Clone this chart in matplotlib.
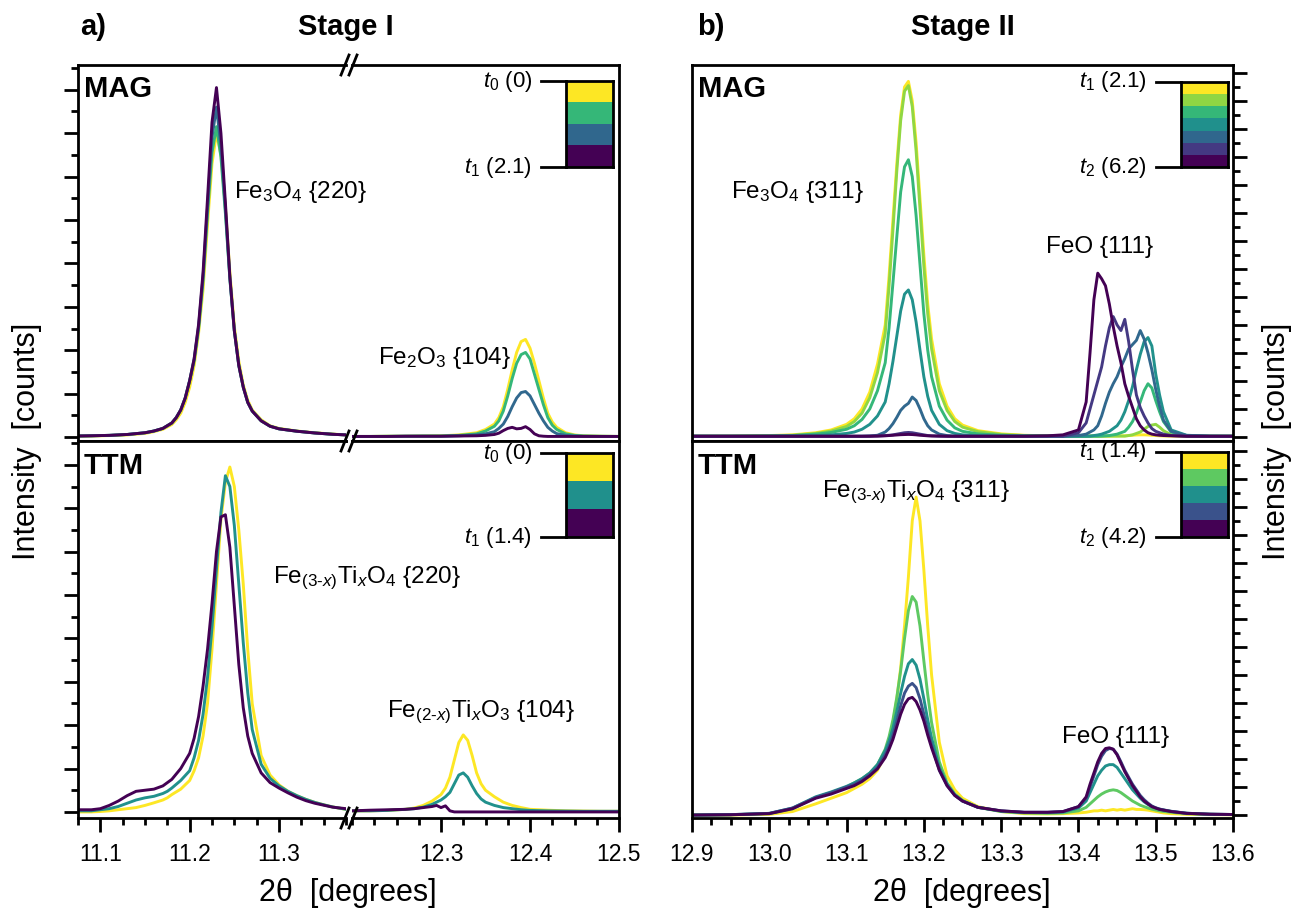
import numpy as np
import matplotlib
matplotlib.use('Agg')
import matplotlib.pyplot as plt
from matplotlib.ticker import MultipleLocator, FixedLocator, FormatStrFormatter
from matplotlib.lines import Line2D
from matplotlib.colors import to_rgb

plt.rcParams['font.family'] = ['Liberation Sans', 'DejaVu Sans']
plt.rcParams['mathtext.fontset'] = 'custom'
plt.rcParams['mathtext.rm'] = 'Liberation Sans'
plt.rcParams['mathtext.it'] = 'Liberation Sans:italic'
plt.rcParams['mathtext.bf'] = 'Liberation Sans:bold'

W, H = 1293, 913

# ---- Stage I, MAG (intensity in tick units) ----
x_a_mag_l = [11.075, 11.09, 11.11, 11.13, 11.15, 11.16, 11.17, 11.18, 11.185, 11.19, 11.195, 11.20,
             11.205, 11.21, 11.215, 11.22, 11.225, 11.23, 11.235, 11.24, 11.245, 11.25,
             11.255, 11.26, 11.265, 11.27, 11.28, 11.29, 11.30, 11.32, 11.34, 11.36, 11.375]
a_mag_l_t0 = [0.04, 0.05, 0.07, 0.1, 0.17, 0.25, 0.36, 0.58, 0.8, 1.1, 1.6, 2.3,
              3.3, 4.8, 6.8, 9.8, 12.6, 14.0, 13.0, 10.6, 7.6, 5.1,
              3.5, 2.4, 1.7, 1.25, 0.8, 0.52, 0.4, 0.28, 0.2, 0.14, 0.1]
a_mag_l_t1 = [0.05, 0.06, 0.08, 0.12, 0.2, 0.28, 0.4, 0.65, 0.9, 1.25, 1.8, 2.6,
              3.5, 5.0, 7.2, 10.3, 13.1, 14.3, 12.9, 10.3, 7.3, 4.9,
              3.3, 2.3, 1.6, 1.2, 0.75, 0.5, 0.38, 0.27, 0.19, 0.13, 0.1]
a_mag_l_t2 = [0.05, 0.06, 0.08, 0.12, 0.2, 0.28, 0.4, 0.65, 0.9, 1.25, 1.8, 2.6,
              3.6, 5.1, 7.4, 10.6, 13.8, 15.2, 13.4, 10.5, 7.3, 4.9,
              3.3, 2.3, 1.6, 1.2, 0.75, 0.5, 0.38, 0.27, 0.19, 0.13, 0.1]
a_mag_l_t3 = [0.05, 0.06, 0.08, 0.12, 0.2, 0.28, 0.4, 0.65, 0.9, 1.25, 1.8, 2.6,
              3.6, 5.2, 7.6, 11.0, 14.5, 16.1, 14.0, 10.8, 7.4, 4.9,
              3.3, 2.3, 1.6, 1.2, 0.75, 0.5, 0.38, 0.27, 0.19, 0.13, 0.1]

x_a_mag_r = [12.20, 12.22, 12.24, 12.26, 12.28, 12.30, 12.32, 12.34, 12.35, 12.36,
             12.365, 12.37, 12.375, 12.38, 12.385, 12.39, 12.395, 12.40, 12.405, 12.41,
             12.415, 12.42, 12.425, 12.43, 12.44, 12.45, 12.46, 12.48, 12.50]
a_mag_r_t0 = [0.03, 0.03, 0.04, 0.04, 0.05, 0.06, 0.1, 0.2, 0.35, 0.6,
              0.9, 1.4, 2.2, 3.1, 3.9, 4.4, 4.5, 4.1, 3.4, 2.6,
              1.8, 1.1, 0.7, 0.45, 0.2, 0.1, 0.06, 0.04, 0.03]
a_mag_r_t1 = [0.03, 0.03, 0.04, 0.04, 0.05, 0.05, 0.08, 0.15, 0.28, 0.5,
              0.75, 1.2, 1.9, 2.7, 3.4, 3.8, 3.9, 3.6, 2.9, 2.2,
              1.5, 0.9, 0.55, 0.35, 0.15, 0.08, 0.05, 0.04, 0.03]
a_mag_r_t2 = [0.03, 0.03, 0.03, 0.04, 0.04, 0.04, 0.06, 0.1, 0.15, 0.25,
              0.4, 0.6, 0.95, 1.4, 1.8, 2.05, 2.1, 1.9, 1.5, 1.1,
              0.75, 0.45, 0.28, 0.16, 0.08, 0.05, 0.04, 0.03, 0.03]
a_mag_r_t3 = [0.03, 0.03, 0.03, 0.04, 0.04, 0.04, 0.05, 0.06, 0.08, 0.12,
              0.18, 0.3, 0.4, 0.45, 0.38, 0.4, 0.48, 0.35, 0.15, 0.06,
              0.04, 0.03, 0.03, 0.03, 0.03, 0.03, 0.03, 0.03, 0.03]

# ---- Stage I, TTM ----
x_a_ttm_l = [11.075, 11.09, 11.10, 11.11, 11.12, 11.13, 11.14, 11.15, 11.16, 11.17, 11.175, 11.18, 11.19, 11.20,
             11.205, 11.21, 11.215, 11.22, 11.225, 11.23, 11.235, 11.24, 11.245, 11.25, 11.255, 11.26, 11.265, 11.27,
             11.28, 11.29, 11.30, 11.31, 11.32, 11.33, 11.34, 11.35, 11.36, 11.375]
a_ttm_l_t0 = [0.0, 0.0, 0.02, 0.05, 0.1, 0.15, 0.2, 0.3, 0.42, 0.55, 0.65, 0.8, 1.05, 1.45,
              1.9, 2.5, 3.5, 5.0, 7.5, 10.5, 13.5, 15.2, 15.9, 15.0, 13.0, 10.5, 7.5, 5.0,
              2.6, 1.7, 1.25, 0.95, 0.75, 0.58, 0.44, 0.33, 0.23, 0.12]
a_ttm_l_t1 = [0.05, 0.05, 0.1, 0.15, 0.25, 0.4, 0.55, 0.65, 0.72, 0.85, 0.95, 1.1, 1.45, 1.9,
              2.5, 3.3, 4.5, 6.2, 8.5, 11.2, 13.8, 15.5, 15.0, 13.2, 10.5, 7.8, 5.5, 3.8,
              2.2, 1.55, 1.2, 0.95, 0.75, 0.58, 0.44, 0.33, 0.23, 0.12]
a_ttm_l_t2 = [0.1, 0.1, 0.15, 0.3, 0.5, 0.75, 0.95, 1.0, 1.05, 1.2, 1.35, 1.5, 2.0, 2.7,
              3.4, 4.4, 5.8, 7.5, 9.6, 12.0, 13.6, 13.7, 12.2, 9.5, 6.8, 4.8, 3.5, 2.7,
              1.8, 1.35, 1.1, 0.88, 0.68, 0.52, 0.4, 0.31, 0.22, 0.15]

x_a_ttm_r = [12.20, 12.22, 12.24, 12.26, 12.27, 12.28, 12.29, 12.295, 12.30, 12.305,
             12.31, 12.315, 12.32, 12.325, 12.33, 12.335, 12.34, 12.345, 12.35, 12.36,
             12.37, 12.38, 12.39, 12.40, 12.42, 12.44, 12.46, 12.48, 12.50]
a_ttm_r_t0 = [0.05, 0.05, 0.07, 0.12, 0.18, 0.3, 0.5, 0.65, 0.8, 1.1,
              1.6, 2.4, 3.2, 3.55, 3.3, 2.6, 1.8, 1.3, 1.0, 0.7,
              0.45, 0.3, 0.2, 0.12, 0.08, 0.05, 0.04, 0.03, 0.03]
a_ttm_r_t1 = [0.05, 0.05, 0.07, 0.12, 0.15, 0.22, 0.35, 0.45, 0.55, 0.7,
              0.9, 1.3, 1.7, 1.8, 1.6, 1.2, 0.85, 0.6, 0.45, 0.3,
              0.2, 0.15, 0.1, 0.07, 0.05, 0.04, 0.03, 0.03, 0.03]
a_ttm_r_t2 = [0.05, 0.08, 0.1, 0.12, 0.15, 0.2, 0.25, 0.3, 0.2, 0.28,
              0.05, 0.0, 0.0, 0.0, 0.0, 0.0, 0.0, 0.0, 0.0, 0.0,
              0.0, 0.0, 0.0, 0.0, 0.0, 0.0, 0.0, 0.0, 0.0]

# ---- Stage II (shared 2theta grid) ----
x_b = [12.90, 12.95, 13.00, 13.03, 13.06, 13.08, 13.10, 13.11, 13.12, 13.13, 13.14,
       13.15, 13.155, 13.16, 13.165, 13.17, 13.175, 13.18, 13.185, 13.19, 13.195, 13.20, 13.205, 13.21,
       13.22, 13.23, 13.24, 13.25, 13.27, 13.30, 13.33, 13.36, 13.38,
       13.40, 13.41, 13.415, 13.42, 13.425, 13.43, 13.435, 13.44, 13.445, 13.45, 13.455, 13.46, 13.465,
       13.47, 13.475, 13.48, 13.485, 13.49, 13.495, 13.50, 13.505, 13.51, 13.52, 13.54, 13.57, 13.60]

b_mag = [
    [0.05, 0.06, 0.1, 0.15, 0.3, 0.5, 0.9, 1.3, 2.0, 3.2, 5.2,
     8.0, 11.5, 15.5, 19.5, 23.0, 25.0, 25.4, 24.0, 21.0, 17.0, 13.0, 9.5, 7.0,
     3.8, 2.2, 1.3, 0.85, 0.45, 0.22, 0.12, 0.08, 0.07,
     0.06, 0.06, 0.06, 0.06, 0.06, 0.06, 0.06, 0.06, 0.07, 0.07, 0.08, 0.08, 0.1,
     0.12, 0.14, 0.15, 0.15, 0.14, 0.12, 0.1, 0.08, 0.07, 0.06, 0.05, 0.05, 0.05],
    [0.05, 0.05, 0.08, 0.12, 0.25, 0.42, 0.75, 1.1, 1.7, 2.8, 4.6,
     7.4, 10.8, 14.8, 19.0, 22.6, 24.7, 25.1, 23.6, 20.4, 16.3, 12.2, 8.8, 6.3,
     3.3, 1.9, 1.1, 0.7, 0.38, 0.18, 0.1, 0.07, 0.06,
     0.06, 0.06, 0.06, 0.06, 0.06, 0.06, 0.06, 0.06, 0.06, 0.06, 0.06, 0.06, 0.1,
     0.15, 0.25, 0.35, 0.55, 0.75, 0.85, 0.9, 0.7, 0.45, 0.15, 0.06, 0.05, 0.05],
    [0.05, 0.05, 0.07, 0.1, 0.2, 0.32, 0.55, 0.8, 1.25, 2.0, 3.3,
     5.3, 7.8, 11.0, 14.3, 17.5, 19.3, 19.8, 18.6, 15.8, 12.3, 8.8, 6.2, 4.3,
     2.2, 1.2, 0.65, 0.4, 0.22, 0.12, 0.08, 0.06, 0.05,
     0.05, 0.05, 0.05, 0.05, 0.05, 0.06, 0.08, 0.1, 0.15, 0.2, 0.3, 0.4, 0.7,
     1.1, 1.7, 2.5, 3.3, 3.8, 3.5, 2.6, 1.8, 1.1, 0.35, 0.08, 0.05, 0.05],
    [0.05, 0.05, 0.05, 0.06, 0.1, 0.15, 0.25, 0.35, 0.55, 0.9, 1.5,
     2.5, 3.8, 5.4, 7.2, 9.0, 10.2, 10.5, 9.8, 8.2, 6.2, 4.3, 2.9, 1.9,
     0.9, 0.45, 0.25, 0.15, 0.09, 0.06, 0.05, 0.05, 0.05,
     0.05, 0.05, 0.06, 0.1, 0.14, 0.2, 0.3, 0.4, 0.6, 0.8, 1.2, 1.8, 2.6,
     3.6, 4.8, 5.9, 6.8, 7.1, 6.5, 4.5, 3.0, 1.8, 0.5, 0.12, 0.06, 0.05],
    [0.05, 0.05, 0.05, 0.05, 0.05, 0.05, 0.05, 0.05, 0.05, 0.07, 0.12,
     0.35, 0.6, 0.95, 1.4, 1.9, 2.2, 2.4, 2.85, 2.6, 2.0, 1.3, 0.8, 0.5,
     0.2, 0.1, 0.06, 0.05, 0.05, 0.05, 0.05, 0.05, 0.05,
     0.1, 0.2, 0.35, 0.5, 0.8, 1.5, 2.4, 3.2, 3.8, 4.3, 5.0, 5.6, 6.3,
     6.6, 6.9, 7.6, 7.0, 6.0, 4.8, 3.4, 2.2, 1.2, 0.4, 0.1, 0.05, 0.05],
    [0.05, 0.05, 0.05, 0.05, 0.05, 0.05, 0.05, 0.05, 0.05, 0.06, 0.07,
     0.1, 0.12, 0.15, 0.2, 0.25, 0.3, 0.32, 0.3, 0.25, 0.2, 0.15, 0.1, 0.08,
     0.06, 0.05, 0.05, 0.05, 0.05, 0.05, 0.05, 0.05, 0.05,
     0.3, 1.0, 2.0, 3.0, 4.0, 5.0, 6.5, 7.8, 8.6, 8.0, 7.6, 8.4, 6.8,
     4.8, 3.0, 2.1, 1.5, 1.0, 0.6, 0.4, 0.3, 0.2, 0.1, 0.05, 0.05, 0.05],
    [0.05, 0.05, 0.05, 0.05, 0.05, 0.05, 0.05, 0.05, 0.05, 0.05, 0.06,
     0.08, 0.1, 0.12, 0.14, 0.16, 0.17, 0.18, 0.17, 0.15, 0.12, 0.1, 0.08, 0.07,
     0.06, 0.05, 0.05, 0.05, 0.05, 0.05, 0.05, 0.08, 0.15,
     0.5, 2.5, 6.0, 9.8, 11.7, 11.3, 10.8, 9.5, 7.9, 6.5, 5.3, 3.8, 2.9,
     2.1, 1.3, 0.8, 0.5, 0.3, 0.2, 0.15, 0.12, 0.1, 0.08, 0.05, 0.05, 0.05],
]

b_ttm = [
    [0.0, 0.0, 0.05, 0.25, 0.8, 1.2, 1.6, 1.9, 2.2, 2.6, 3.2,
     4.3, 5.2, 6.5, 8.3, 10.5, 13.5, 17.0, 21.0, 22.7, 21.0, 17.5, 13.5, 10.0,
     5.2, 2.8, 1.8, 1.2, 0.6, 0.25, 0.1, 0.08, 0.1,
     0.15, 0.2, 0.25, 0.3, 0.3, 0.35, 0.3, 0.35, 0.4, 0.35, 0.4, 0.35, 0.4,
     0.45, 0.4, 0.4, 0.38, 0.35, 0.3, 0.25, 0.2, 0.15, 0.1, 0.05, 0.03, 0.02],
    [0.0, 0.02, 0.1, 0.45, 1.25, 1.6, 2.0, 2.3, 2.6, 3.0, 3.6,
     4.7, 5.6, 6.8, 8.4, 10.3, 12.6, 14.6, 15.6, 15.2, 13.5, 11.0, 8.6, 6.6,
     3.8, 2.3, 1.5, 1.05, 0.55, 0.25, 0.15, 0.12, 0.15,
     0.3, 0.55, 0.8, 1.05, 1.3, 1.5, 1.65, 1.75, 1.8, 1.75, 1.6, 1.4, 1.2,
     1.0, 0.85, 0.7, 0.6, 0.5, 0.42, 0.36, 0.3, 0.26, 0.2, 0.1, 0.05, 0.03],
    [0.0, 0.03, 0.12, 0.5, 1.3, 1.65, 2.05, 2.3, 2.6, 3.0, 3.6,
     4.6, 5.3, 6.2, 7.4, 8.7, 9.9, 10.8, 11.1, 10.7, 9.7, 8.3, 6.8, 5.5,
     3.4, 2.2, 1.45, 1.0, 0.55, 0.28, 0.18, 0.18, 0.22,
     0.5, 1.0, 1.6, 2.2, 2.8, 3.2, 3.5, 3.6, 3.6, 3.4, 3.0, 2.6, 2.2,
     1.8, 1.5, 1.2, 0.95, 0.75, 0.6, 0.5, 0.42, 0.36, 0.26, 0.13, 0.06, 0.04],
    [0.0, 0.03, 0.12, 0.5, 1.25, 1.6, 2.0, 2.2, 2.5, 2.9, 3.4,
     4.3, 4.9, 5.7, 6.7, 7.8, 8.7, 9.2, 9.4, 9.1, 8.3, 7.2, 6.0, 5.0,
     3.2, 2.1, 1.4, 1.0, 0.55, 0.3, 0.2, 0.2, 0.25,
     0.6, 1.2, 2.0, 2.8, 3.6, 4.2, 4.6, 4.75, 4.7, 4.35, 3.8, 3.2, 2.7,
     2.2, 1.8, 1.4, 1.1, 0.85, 0.65, 0.52, 0.43, 0.37, 0.27, 0.13, 0.06, 0.04],
    [0.0, 0.02, 0.1, 0.45, 1.2, 1.5, 1.9, 2.1, 2.4, 2.8, 3.3,
     4.1, 4.7, 5.4, 6.3, 7.2, 7.9, 8.3, 8.4, 8.1, 7.5, 6.7, 5.7, 4.8,
     3.2, 2.1, 1.4, 1.0, 0.55, 0.3, 0.2, 0.2, 0.25,
     0.6, 1.3, 2.2, 3.0, 3.8, 4.4, 4.75, 4.8, 4.7, 4.3, 3.7, 3.1, 2.6,
     2.1, 1.7, 1.3, 1.0, 0.8, 0.6, 0.5, 0.4, 0.35, 0.25, 0.12, 0.06, 0.04],
]

a_mag_colors = plt.cm.viridis(np.linspace(1, 0, 4))
a_ttm_colors = plt.cm.viridis(np.linspace(1, 0, 3))
b_mag_colors = plt.cm.viridis(np.linspace(1, 0, 7))
b_ttm_colors = plt.cm.viridis(np.linspace(1, 0, 5))

fig = plt.figure(figsize=(W / 100, H / 100), dpi=100)


def box(x0, y0, x1, y1):
    # pixel box (top-left origin) -> figure fraction rect
    return [x0 / W, 1 - y1 / H, (x1 - x0) / W, (y1 - y0) / H]


def fpt(x, y):
    return x / W, 1 - y / H


def setup(ax, xlim, ylim, xmajor, show_x, yside, hide):
    ax.set_xlim(xlim)
    ax.set_ylim(ylim)
    for s in ax.spines.values():
        s.set_linewidth(2)
    for s in hide:
        ax.spines[s].set_visible(False)
    ax.xaxis.set_major_locator(FixedLocator(xmajor))
    ax.xaxis.set_minor_locator(MultipleLocator(0.025))
    ax.xaxis.set_major_formatter(FormatStrFormatter('%.1f'))
    ax.yaxis.set_major_locator(MultipleLocator(2))
    ax.yaxis.set_minor_locator(MultipleLocator(1))
    ax.tick_params(which='both', direction='out', width=2, labelsize=16.5,
                   top=False, bottom=show_x, labelbottom=show_x,
                   left=(yside == 'left'), right=(yside == 'right'),
                   labelleft=False, labelright=False)
    ax.tick_params(which='major', length=10, pad=8)
    ax.tick_params(which='minor', length=5)


ax_atl = fig.add_axes(box(78, 65, 346, 441))
ax_atr = fig.add_axes(box(352, 65, 619, 441))
ax_abl = fig.add_axes(box(78, 441, 346, 818))
ax_abr = fig.add_axes(box(352, 441, 619, 818))
ax_bt = fig.add_axes(box(692, 65, 1233, 441))
ax_bb = fig.add_axes(box(692, 441, 1233, 818))

lw = 2.1
for ys, c in zip([a_mag_l_t0, a_mag_l_t1, a_mag_l_t2, a_mag_l_t3], a_mag_colors):
    ax_atl.plot(x_a_mag_l, ys, color=c, lw=lw)
for ys, c in zip([a_mag_r_t0, a_mag_r_t1, a_mag_r_t2, a_mag_r_t3], a_mag_colors):
    ax_atr.plot(x_a_mag_r, ys, color=c, lw=lw)
for ys, c in zip([a_ttm_l_t0, a_ttm_l_t1, a_ttm_l_t2], a_ttm_colors):
    ax_abl.plot(x_a_ttm_l, ys, color=c, lw=lw)
for ys, c in zip([a_ttm_r_t0, a_ttm_r_t1, a_ttm_r_t2], a_ttm_colors):
    ax_abr.plot(x_a_ttm_r, ys, color=c, lw=lw)
for ys, c in zip(b_mag, b_mag_colors):
    ax_bt.plot(x_b, ys, color=c, lw=lw)
for ys, c in zip(b_ttm, b_ttm_colors):
    ax_bb.plot(x_b, ys, color=c, lw=lw)

setup(ax_atl, (11.075, 11.375), (-0.18, 17.14), [11.1, 11.2, 11.3], False, 'left', ['right'])
setup(ax_atr, (12.2, 12.5), (-0.18, 17.14), [12.3, 12.4, 12.5], False, None, ['left'])
setup(ax_abl, (11.075, 11.375), (-0.28, 17.1), [11.1, 11.2, 11.3], True, 'left', ['right'])
setup(ax_abr, (12.2, 12.5), (-0.28, 17.1), [12.3, 12.4, 12.5], True, None, ['left'])
setup(ax_bt, (12.9, 13.6), (-0.29, 26.57), np.arange(12.9, 13.61, 0.1), False, 'right', [])
setup(ax_bb, (12.9, 13.6), (-0.21, 26.7), np.arange(12.9, 13.61, 0.1), True, 'right', [])

# break marks on the stage I axis
for y in (65, 441, 818):
    for x in (345, 353):
        fig.add_artist(Line2D([(x - 4) / W, (x + 4) / W], [1 - (y + 10) / H, 1 - (y - 10) / H],
                              color='black', lw=2, transform=fig.transFigure))


def add_key(x0, y0, x1, y1, colors, top_label, bottom_label):
    kax = fig.add_axes(box(x0, y0, x1, y1))
    img = np.array([to_rgb(c) for c in colors])[:, None, :]
    kax.imshow(img, aspect='auto', interpolation='nearest')
    kax.set_xticks([])
    kax.set_yticks([])
    for s in kax.spines.values():
        s.set_linewidth(2)
    lx = x0 - 25
    fig.add_artist(Line2D([lx / W, x0 / W], [1 - y0 / H, 1 - y0 / H], color='black', lw=2,
                          transform=fig.transFigure))
    fig.add_artist(Line2D([lx / W, x0 / W], [1 - y1 / H, 1 - y1 / H], color='black', lw=2,
                          transform=fig.transFigure))
    fig.text(*fpt(lx - 9, y0), top_label, ha='right', va='center', fontsize=16)
    fig.text(*fpt(lx - 9, y1), bottom_label, ha='right', va='center', fontsize=16)


add_key(566, 81, 613, 167, a_mag_colors, r'$t_0$ (0)', r'$t_1$ (2.1)')
add_key(566, 453, 613, 537, a_ttm_colors, r'$t_0$ (0)', r'$t_1$ (1.4)')
add_key(1181, 82, 1228, 167, b_mag_colors, r'$t_1$ (2.1)', r'$t_2$ (6.2)')
add_key(1181, 452, 1228, 537, b_ttm_colors, r'$t_1$ (1.4)', r'$t_2$ (4.2)')

# titles and panel labels
fig.text(*fpt(80, 27), 'a)', fontsize=21, fontweight='bold', va='center')
fig.text(*fpt(346, 27), 'Stage I', fontsize=21, fontweight='bold', ha='center', va='center')
fig.text(*fpt(697, 27), 'b)', fontsize=21, fontweight='bold', va='center')
fig.text(*fpt(963, 27), 'Stage II', fontsize=21, fontweight='bold', ha='center', va='center')
for x in (84, 698):
    fig.text(*fpt(x, 89), 'MAG', fontsize=21, fontweight='bold', va='center')
    fig.text(*fpt(x, 466), 'TTM', fontsize=21, fontweight='bold', va='center')

# peak labels
fs = 17.5
fig.text(*fpt(234, 192), r'Fe$_3$O$_4$ {220}', fontsize=fs, va='center')
fig.text(*fpt(378, 358), r'Fe$_2$O$_3$ {104}', fontsize=fs, va='center')
fig.text(*fpt(273, 578), r'Fe$_{(3\text{-}x)}$Ti$_x$O$_4$ {220}', fontsize=fs, va='center')
fig.text(*fpt(387, 712), r'Fe$_{(2\text{-}x)}$Ti$_x$O$_3$ {104}', fontsize=fs, va='center')
fig.text(*fpt(864, 192), r'Fe$_3$O$_4$ {311}', fontsize=fs, ha='right', va='center')
fig.text(*fpt(1100, 247), 'FeO {111}', fontsize=fs, ha='center', va='center')
fig.text(*fpt(916, 492), r'Fe$_{(3\text{-}x)}$Ti$_x$O$_4$ {311}', fontsize=fs, ha='center', va='center')
fig.text(*fpt(1116, 737), 'FeO {111}', fontsize=fs, ha='center', va='center')

# axis labels
fig.text(*fpt(348, 893), '2θ  [degrees]', fontsize=22, ha='center', va='center')
fig.text(*fpt(962, 893), '2θ  [degrees]', fontsize=22, ha='center', va='center')
fig.text(*fpt(27, 441), 'Intensity  [counts]', fontsize=22, ha='center', va='center', rotation=90)
fig.text(*fpt(1277, 441), 'Intensity  [counts]', fontsize=22, ha='center', va='center', rotation=90)

fig.savefig('out.png', dpi=100)
